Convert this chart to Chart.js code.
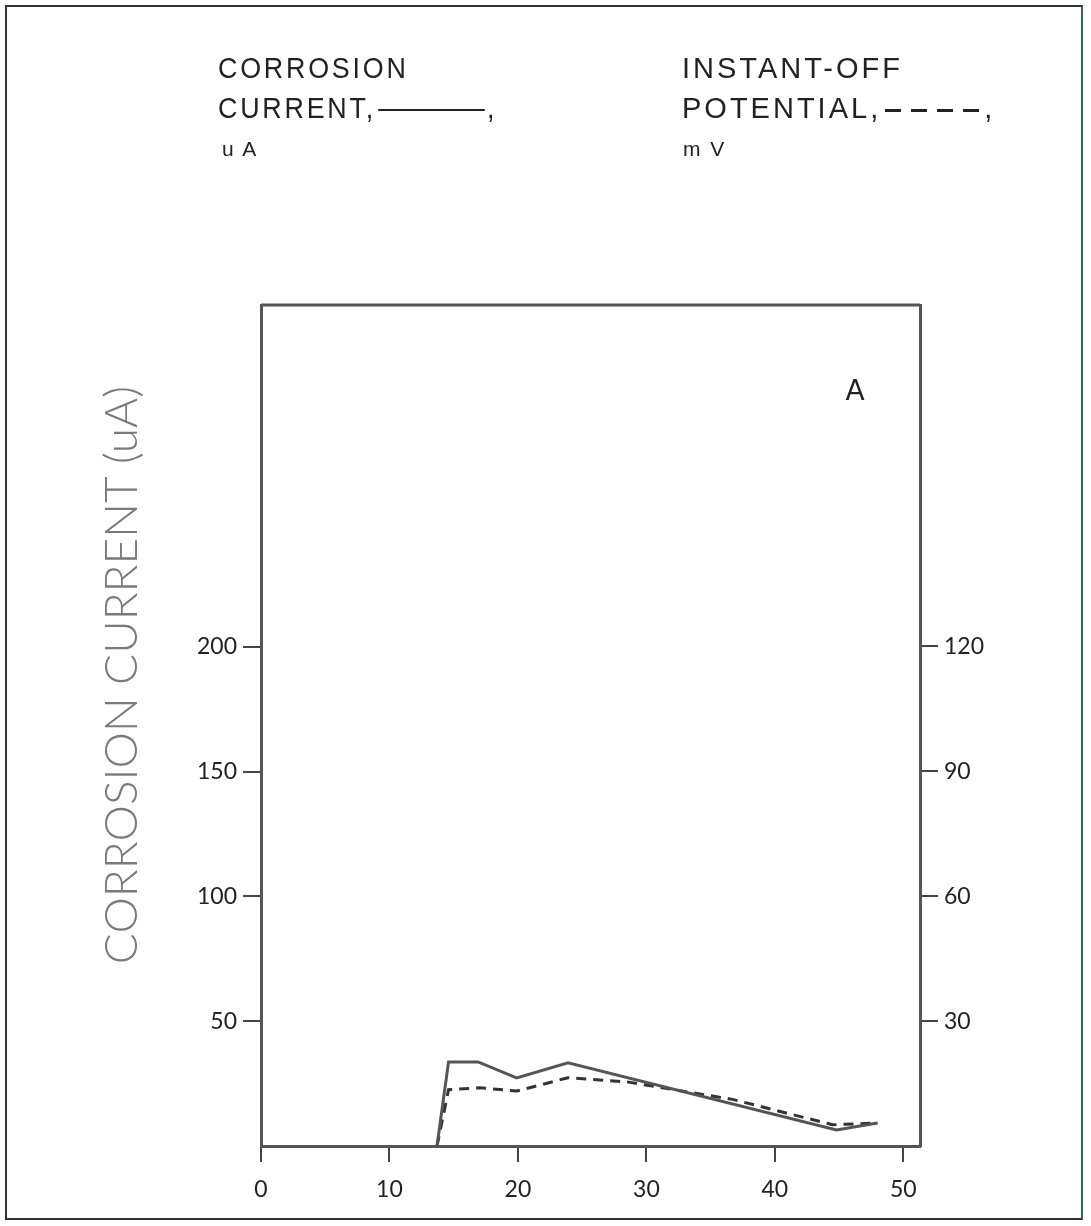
<!DOCTYPE html>
<html>
<head>
<meta charset="utf-8">
<script src="https://cdn.jsdelivr.net/npm/chart.js@4.4.0/dist/chart.umd.min.js"></script>
<style>
  html, body { margin: 0; padding: 0; background: #fff; }
  #wrap { position: relative; width: 1091px; height: 1226px; overflow: hidden; }
  #frame { position: absolute; left: 5px; top: 5px; width: 1078px; height: 1215px;
           border: 2px solid #333; border-right-color: #2d6b5a; box-sizing: border-box; }
  canvas { position: absolute; left: 0; top: 0; }
  .hdr { position: absolute; font-family: "Liberation Sans", Arial, sans-serif;
         font-size: 29px; letter-spacing: 3px; color: #222; line-height: 1; white-space: pre;
         transform-origin: left top; }
  .narrow { transform: scaleX(0.926); }
  .unit { font-size: 21px; letter-spacing: 2px; }
  .dash4 { display: inline-block; width: 95px; height: 3px; vertical-align: middle; margin: 0 4px 0 4px;
           background: repeating-linear-gradient(90deg, #222 0 16px, transparent 16px 26px); }
</style>
</head>
<body>
<div id="wrap">
  <div id="frame"></div>
  <canvas id="chart" width="1091" height="1226"></canvas>
  <div class="hdr narrow" style="left:218px; top:54px;">CORROSION</div>
  <div class="hdr narrow" style="left:218px; top:94px;">CURRENT,<span style="display:inline-block;width:115px;border-top:2px solid #222;vertical-align:middle;margin:0 3px 0 2px;"></span>,</div>
  <div class="hdr unit" style="left:222px; top:138px;">u A</div>
  <div class="hdr" style="left:682px; top:54px;">INSTANT-OFF</div>
  <div class="hdr" style="left:682px; top:94px;">POTENTIAL,<span class="dash4"></span>,</div>
  <div class="hdr unit" style="left:683px; top:138px;">m V</div>
</div>
<script>
// --- Data ---
const currentX = [13.7, 14.6, 16.9, 19.9, 23.9, 44.8, 48.0];
const currentY = [0, 33.7, 33.7, 27.3, 33.3, 6.4, 9.2];

const potentialX = [13.7, 14.6, 17.0, 19.9, 23.9, 28.5, 36.7, 44.5, 48.0];
const potentialY = [0, 13.5, 14.0, 13.2, 16.4, 15.4, 11.2, 5.1, 5.5];

const xTicks = [0, 10, 20, 30, 40, 50];
const leftTicks = [50, 100, 150, 200];
const rightTicks = [30, 60, 90, 120];

const yTitle = 'CORROSION CURRENT (uA)';
const panelLabel = 'A';

// --- helpers ---
function toPoints(xs, ys) {
  return xs.map((x, i) => ({ x, y: ys[i] }));
}

const tickFont = { family: 'Lato, "DejaVu Sans", sans-serif', size: 23 };
const axisColor = '#555';

// frame on top + y title + panel letter
const decorPlugin = {
  id: 'decor',
  afterDraw(chart) {
    const { ctx, chartArea } = chart;
    ctx.save();
    ctx.strokeStyle = axisColor;
    ctx.lineWidth = 3;
    ctx.beginPath();
    ctx.moveTo(chartArea.left, chartArea.top);
    ctx.lineTo(chartArea.right, chartArea.top);
    ctx.stroke();

    ctx.fillStyle = '#222';
    ctx.font = '28px "DejaVu Sans", sans-serif';
    ctx.textAlign = 'center';
    ctx.textBaseline = 'middle';
    ctx.fillText(panelLabel, 855, 393);

    ctx.translate(122, 675);
    ctx.rotate(-Math.PI / 2);
    ctx.fillStyle = '#7a7a7a';
    ctx.font = '300 46px Lato, "DejaVu Sans", sans-serif';
    ctx.fillText(yTitle, 0, 0);
    ctx.restore();
  }
};

new Chart(document.getElementById('chart'), {
  type: 'line',
  data: {
    datasets: [
      {
        label: 'Corrosion current',
        data: toPoints(currentX, currentY),
        yAxisID: 'y',
        borderColor: '#555',
        borderWidth: 3,
        pointRadius: 0,
        tension: 0,
        fill: false
      },
      {
        label: 'Instant-off potential',
        data: toPoints(potentialX, potentialY),
        yAxisID: 'y2',
        borderColor: '#333',
        borderWidth: 3,
        borderDash: [10, 7],
        pointRadius: 0,
        tension: 0,
        fill: false
      }
    ]
  },
  options: {
    responsive: false,
    animation: false,
    layout: { padding: { top: 305, left: 0, right: 0, bottom: 0 } },
    plugins: { legend: { display: false }, tooltip: { enabled: false } },
    scales: {
      x: {
        type: 'linear',
        min: 0,
        max: 51.3,
        afterBuildTicks: a => { a.ticks = xTicks.map(v => ({ value: v })); },
        afterFit: a => { a.height = 80; },
        border: { display: true, width: 3, color: axisColor },
        grid: { drawOnChartArea: false, drawTicks: true, tickLength: 16, color: '#444', lineWidth: 2 },
        ticks: { font: tickFont, color: '#222', padding: 14, maxRotation: 0 }
      },
      y: {
        position: 'left',
        min: 0,
        max: 337,
        afterBuildTicks: a => { a.ticks = leftTicks.map(v => ({ value: v })); },
        afterFit: a => { a.width = 261; },
        border: { display: true, width: 3, color: axisColor },
        grid: { drawOnChartArea: false, drawTicks: true, tickLength: 18, color: '#444', lineWidth: 2 },
        ticks: { font: tickFont, color: '#222', padding: 6 }
      },
      y2: {
        position: 'right',
        min: 0,
        max: 202,
        afterBuildTicks: a => { a.ticks = rightTicks.map(v => ({ value: v })); },
        afterFit: a => { a.width = 171; },
        border: { display: true, width: 3, color: axisColor },
        grid: { drawOnChartArea: false, drawTicks: true, tickLength: 18, color: '#444', lineWidth: 2 },
        ticks: { font: tickFont, color: '#222', padding: 6 }
      }
    }
  },
  plugins: [decorPlugin]
});
</script>
</body>
</html>
